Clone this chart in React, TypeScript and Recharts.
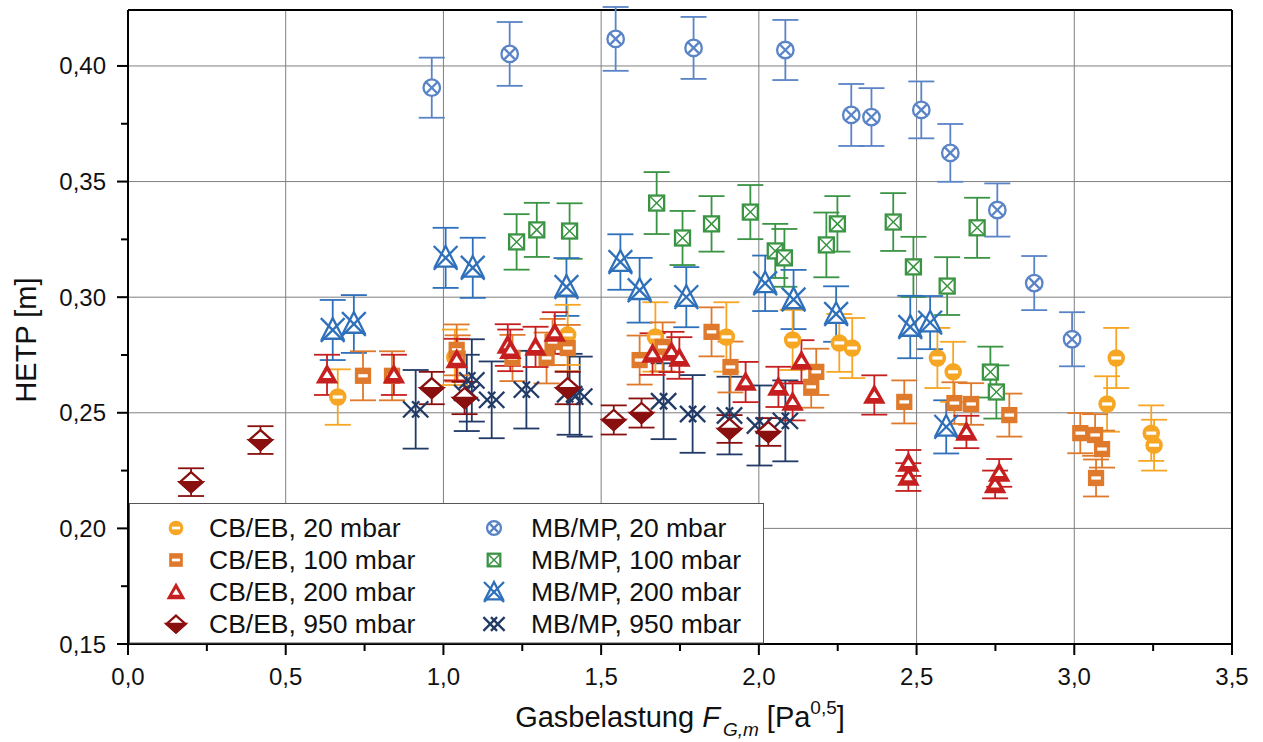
import React from 'react';
import { ScatterChart, Scatter, XAxis, YAxis, ErrorBar, ReferenceLine } from 'recharts';

// axis ticks (minor + major)
const xTicks = [0, 0.25, 0.5, 0.75, 1, 1.25, 1.5, 1.75, 2, 2.25, 2.5, 2.75, 3, 3.25, 3.5];
const yTicks = [0.15, 0.175, 0.2, 0.225, 0.25, 0.275, 0.3, 0.325, 0.35, 0.375, 0.4];
const xGrid = [0.5, 1, 1.5, 2, 2.5, 3];
const yGrid = [0.2, 0.25, 0.3, 0.35, 0.4];

// CB/EB, 20 mbar
const cb20X = [0.665, 1.036, 1.394, 1.672, 1.897, 2.107, 2.255, 2.296, 2.566, 2.616, 3.104, 3.133, 3.244, 3.253];
const cb20Y = [0.2568, 0.274, 0.2837, 0.2828, 0.2828, 0.2815, 0.2802, 0.278, 0.2737, 0.2677, 0.2538, 0.2737, 0.2412, 0.236];
const cb20Err = [0.012, 0.012, 0.013, 0.015, 0.015, 0.013, 0.0125, 0.013, 0.013, 0.013, 0.012, 0.013, 0.012, 0.011];

// CB/EB, 100 mbar
const cb100X = [0.745, 0.837, 1.042, 1.045, 1.219, 1.327, 1.346, 1.394, 1.622, 1.695, 1.85, 1.91, 2.166, 2.182, 2.461, 2.62, 2.673, 2.794, 3.019, 3.066, 3.069, 3.088];
const cb100Y = [0.266, 0.266, 0.2772, 0.2735, 0.2737, 0.2737, 0.2806, 0.278, 0.2728, 0.2785, 0.285, 0.2698, 0.2612, 0.2677, 0.2547, 0.2542, 0.2538, 0.249, 0.2412, 0.2404, 0.2218, 0.2343];
const cb100Err = [0.0106, 0.0106, 0.011, 0.01, 0.01, 0.011, 0.01, 0.01, 0.0106, 0.0106, 0.0106, 0.011, 0.009, 0.01, 0.0093, 0.009, 0.009, 0.0093, 0.0087, 0.009, 0.008, 0.008];

// CB/EB, 200 mbar
const cb200X = [0.631, 0.843, 1.042, 1.204, 1.212, 1.292, 1.353, 1.663, 1.723, 1.748, 1.958, 2.062, 2.107, 2.135, 2.366, 2.474, 2.474, 2.658, 2.749, 2.762];
const cb200Y = [0.2664, 0.2664, 0.273, 0.2793, 0.277, 0.2785, 0.2845, 0.2754, 0.2763, 0.2737, 0.2633, 0.2612, 0.2547, 0.2724, 0.2577, 0.2283, 0.2222, 0.2417, 0.219, 0.224];
const cb200Err = [0.0087, 0.0087, 0.009, 0.009, 0.009, 0.0087, 0.009, 0.009, 0.0087, 0.009, 0.0087, 0.0087, 0.008, 0.009, 0.0085, 0.0056, 0.006, 0.007, 0.006, 0.006];

// CB/EB, 950 mbar
const cb950X = [0.2, 0.42, 0.963, 1.067, 1.394, 1.54, 1.628, 1.907, 2.03];
const cb950Y = [0.22, 0.2382, 0.2607, 0.2564, 0.2607, 0.2469, 0.2499, 0.243, 0.2417];
const cb950Err = [0.006, 0.006, 0.007, 0.007, 0.007, 0.0063, 0.0063, 0.006, 0.006];

// MB/MP, 20 mbar
const mb20X = [0.963, 1.21, 1.546, 1.793, 2.084, 2.293, 2.357, 2.515, 2.607, 2.756, 2.873, 2.993];
const mb20Y = [0.3906, 0.4052, 0.4117, 0.4078, 0.4069, 0.3788, 0.3779, 0.381, 0.3624, 0.3377, 0.3061, 0.2818];
const mb20Err = [0.013, 0.0138, 0.0138, 0.0134, 0.013, 0.0134, 0.0125, 0.0123, 0.0125, 0.0115, 0.0117, 0.0117];

// MB/MP, 100 mbar
const mb100X = [1.232, 1.296, 1.4, 1.676, 1.758, 1.85, 1.973, 2.052, 2.081, 2.214, 2.249, 2.426, 2.49, 2.597, 2.692, 2.734, 2.753];
const mb100Y = [0.3239, 0.3291, 0.3286, 0.3407, 0.3256, 0.3317, 0.3368, 0.32, 0.317, 0.3226, 0.3317, 0.3325, 0.3131, 0.3048, 0.33, 0.2676, 0.259];
const mb100Err = [0.012, 0.0117, 0.012, 0.0134, 0.0117, 0.012, 0.0117, 0.0117, 0.0125, 0.014, 0.012, 0.0125, 0.013, 0.0125, 0.013, 0.011, 0.0115];

// MB/MP, 200 mbar
const mb200X = [0.649, 0.716, 1.007, 1.093, 1.39, 1.561, 1.622, 1.77, 2.02, 2.11, 2.245, 2.48, 2.543, 2.594];
const mb200Y = [0.2858, 0.2884, 0.317, 0.3127, 0.3044, 0.3152, 0.303, 0.3, 0.306, 0.299, 0.2927, 0.2871, 0.289, 0.2439];
const mb200Err = [0.013, 0.0125, 0.013, 0.013, 0.0125, 0.012, 0.014, 0.013, 0.012, 0.0128, 0.012, 0.0135, 0.0115, 0.0115];

// MB/MP, 950 mbar
const mb950X = [0.912, 1.074, 1.09, 1.153, 1.263, 1.4, 1.432, 1.698, 1.79, 1.907, 2.002, 2.084];
const mb950Y = [0.2515, 0.2586, 0.264, 0.2556, 0.26, 0.258, 0.257, 0.255, 0.2495, 0.2488, 0.2445, 0.2465];
const mb950Err = [0.017, 0.0165, 0.0178, 0.0166, 0.0168, 0.0175, 0.0173, 0.0164, 0.0168, 0.0168, 0.0173, 0.0175];

const FONT = '"Liberation Sans", Arial, sans-serif';

const toRows = (xs: number[], ys: number[], errs: number[]) =>
  xs.map((x, i) => ({ x, y: ys[i], err: errs[i] }));

const series = [
  { name: 'MB/MP, 20 mbar', kind: 'xCircle', color: '#5a84c6', data: toRows(mb20X, mb20Y, mb20Err) },
  { name: 'MB/MP, 100 mbar', kind: 'xSquare', color: '#3a9443', data: toRows(mb100X, mb100Y, mb100Err) },
  { name: 'MB/MP, 200 mbar', kind: 'xTriangle', color: '#2f70bb', data: toRows(mb200X, mb200Y, mb200Err) },
  { name: 'MB/MP, 950 mbar', kind: 'doubleX', color: '#213a66', data: toRows(mb950X, mb950Y, mb950Err) },
  { name: 'CB/EB, 20 mbar', kind: 'halfCircle', color: '#f6a623', data: toRows(cb20X, cb20Y, cb20Err) },
  { name: 'CB/EB, 100 mbar', kind: 'halfSquare', color: '#df7a2c', data: toRows(cb100X, cb100Y, cb100Err) },
  { name: 'CB/EB, 200 mbar', kind: 'halfTriangle', color: '#c61f1f', data: toRows(cb200X, cb200Y, cb200Err) },
  { name: 'CB/EB, 950 mbar', kind: 'halfDiamond', color: '#8a1010', data: toRows(cb950X, cb950Y, cb950Err) },
];

const legendLeft = ['CB/EB, 20 mbar', 'CB/EB, 100 mbar', 'CB/EB, 200 mbar', 'CB/EB, 950 mbar'];
const legendRight = ['MB/MP, 20 mbar', 'MB/MP, 100 mbar', 'MB/MP, 200 mbar', 'MB/MP, 950 mbar'];

function Marker({ kind, cx, cy, color, s = 1.25 }: { kind: string; cx: number; cy: number; color: string; s?: number }) {
  const sw = 2.3;
  switch (kind) {
    case 'halfCircle':
      return (
        <g>
          <circle cx={cx} cy={cy} r={7 * s} fill={color} />
          <rect x={cx - 4 * s} y={cy - 1.3 * s} width={8 * s} height={2.6 * s} fill="#fff" />
        </g>
      );
    case 'halfSquare':
      return (
        <g>
          <rect x={cx - 6.5 * s} y={cy - 6.5 * s} width={13 * s} height={13 * s} fill={color} />
          <rect x={cx - 3.8 * s} y={cy - 1.3 * s} width={7.6 * s} height={2.6 * s} fill="#fff" />
        </g>
      );
    case 'halfTriangle':
      return (
        <g>
          <polygon points={`${cx},${cy - 9 * s} ${cx + 9 * s},${cy + 7 * s} ${cx - 9 * s},${cy + 7 * s}`} fill={color} />
          <polygon points={`${cx},${cy - 3 * s} ${cx + 3.5 * s},${cy + 2.5 * s} ${cx - 3.5 * s},${cy + 2.5 * s}`} fill="#fff" />
        </g>
      );
    case 'halfDiamond':
      return (
        <g>
          <polygon points={`${cx},${cy - 8 * s} ${cx + 9 * s},${cy} ${cx},${cy + 8 * s} ${cx - 9 * s},${cy}`} fill="#fff" stroke={color} strokeWidth={sw} />
          <polygon points={`${cx - 9 * s},${cy} ${cx + 9 * s},${cy} ${cx},${cy + 8 * s}`} fill={color} stroke={color} strokeWidth={sw} />
        </g>
      );
    case 'xCircle': {
      const d = 4.4 * s;
      return (
        <g stroke={color} strokeWidth={sw}>
          <circle cx={cx} cy={cy} r={6.6 * s} fill="#fff" />
          <line x1={cx - d} y1={cy - d} x2={cx + d} y2={cy + d} />
          <line x1={cx - d} y1={cy + d} x2={cx + d} y2={cy - d} />
        </g>
      );
    }
    case 'xSquare': {
      const h = 6 * s;
      return (
        <g stroke={color} strokeWidth={sw}>
          <rect x={cx - h} y={cy - h} width={2 * h} height={2 * h} fill="#fff" />
          <line x1={cx - h} y1={cy - h} x2={cx + h} y2={cy + h} strokeWidth={1.5} />
          <line x1={cx - h} y1={cy + h} x2={cx + h} y2={cy - h} strokeWidth={1.5} />
        </g>
      );
    }
    case 'xTriangle': {
      const d = 9.5 * s;
      return (
        <g stroke={color} strokeWidth={sw} fill="none">
          <polygon points={`${cx},${cy - 9.5 * s} ${cx + 8.5 * s},${cy + 7 * s} ${cx - 8.5 * s},${cy + 7 * s}`} fill="#fff" />
          <line x1={cx - d} y1={cy - d} x2={cx + d} y2={cy + d} />
          <line x1={cx - d} y1={cy + d} x2={cx + d} y2={cy - d} />
        </g>
      );
    }
    case 'doubleX': {
      const d = 6.5 * s;
      const o = 3.6 * s;
      return (
        <g stroke={color} strokeWidth={sw}>
          <line x1={cx - o - d} y1={cy - d} x2={cx - o + d} y2={cy + d} />
          <line x1={cx - o - d} y1={cy + d} x2={cx - o + d} y2={cy - d} />
          <line x1={cx + o - d} y1={cy - d} x2={cx + o + d} y2={cy + d} />
          <line x1={cx + o - d} y1={cy + d} x2={cx + o + d} y2={cy - d} />
        </g>
      );
    }
    default:
      return null;
  }
}

const isMajorX = (v: number) => Math.abs(v * 2 - Math.round(v * 2)) < 1e-6;
const isMajorY = (v: number) => Math.abs(v * 20 - Math.round(v * 20)) < 1e-6;

function XTick(props: any) {
  const { x, y, payload } = props;
  const major = isMajorX(payload.value);
  return (
    <g>
      <line x1={x} x2={x} y1={y} y2={y + (major ? 11 : 7)} stroke="#000" strokeWidth={2} />
      {major && (
        <text x={x} y={y + 41} textAnchor="middle" fontSize={24} fontFamily={FONT} fill="#111">
          {payload.value.toFixed(1).replace('.', ',')}
        </text>
      )}
    </g>
  );
}

function YTick(props: any) {
  const { x, y, payload } = props;
  const major = isMajorY(payload.value);
  return (
    <g>
      <line x1={x} x2={x - (major ? 11 : 7)} y1={y} y2={y} stroke="#000" strokeWidth={2} />
      {major && (
        <text x={x - 22} y={y + 8.5} textAnchor="end" fontSize={24} fontFamily={FONT} fill="#111">
          {payload.value.toFixed(2).replace('.', ',')}
        </text>
      )}
    </g>
  );
}

export default function App() {
  const byName = (n: string) => series.find((s) => s.name === n)!;
  const rowsY = [528, 560, 592, 624];
  return (
    <div style={{ position: 'absolute', left: 0, top: 0, width: 1263, height: 742, background: '#fff' }}>
      <ScatterChart width={1263} height={742} margin={{ top: 10, right: 31, bottom: 58, left: 68 }}>
        {xGrid.map((v) => (
          <ReferenceLine key={'gx' + v} x={v} stroke="#7f7f7f" strokeWidth={1} />
        ))}
        {yGrid.map((v) => (
          <ReferenceLine key={'gy' + v} y={v} stroke="#7f7f7f" strokeWidth={1} />
        ))}
        <ReferenceLine x={3.5} stroke="#000" strokeWidth={2} />
        <ReferenceLine y={0.4242} stroke="#000" strokeWidth={2} />
        <XAxis
          dataKey="x"
          type="number"
          domain={[0, 3.5]}
          ticks={xTicks}
          interval={0}
          allowDataOverflow
          tickSize={0}
          tickMargin={0}
          tickLine={false}
          height={40}
          axisLine={{ stroke: '#000', strokeWidth: 2 }}
          tick={(p: any) => <XTick {...p} />}
        />
        <YAxis
          dataKey="y"
          type="number"
          domain={[0.15, 0.4242]}
          ticks={yTicks}
          interval={0}
          allowDataOverflow
          tickSize={0}
          tickMargin={0}
          tickLine={false}
          width={60}
          axisLine={{ stroke: '#000', strokeWidth: 2 }}
          tick={(p: any) => <YTick {...p} />}
        />
        {series.map((s) => (
          <Scatter
            key={s.name}
            name={s.name}
            data={s.data}
            isAnimationActive={false}
            shape={(p: any) => <Marker kind={s.kind} cx={p.cx} cy={p.cy} color={s.color} />}
          >
            <ErrorBar dataKey="err" direction="y" width={13} stroke={s.color} strokeWidth={1.8} />
          </Scatter>
        ))}
      </ScatterChart>
      <svg width={1263} height={742} style={{ position: 'absolute', left: 0, top: 0, pointerEvents: 'none' }} fontFamily={FONT}>
        <rect x={129.5} y={503.5} width={634} height={139.5} fill="#fff" stroke="#555" strokeWidth={1} />
        {legendLeft.map((n, i) => {
          const s = byName(n);
          return (
            <g key={n}>
              <Marker kind={s.kind} cx={176} cy={rowsY[i]} color={s.color} s={1.05} />
              <text x={209} y={rowsY[i] + 9} fontSize={26.5} fill="#111">{n}</text>
            </g>
          );
        })}
        {legendRight.map((n, i) => {
          const s = byName(n);
          return (
            <g key={n}>
              <Marker kind={s.kind} cx={494} cy={rowsY[i]} color={s.color} s={1.05} />
              <text x={531} y={rowsY[i] + 9} fontSize={26.5} fill="#111">{n}</text>
            </g>
          );
        })}
        <text transform="translate(36,340) rotate(-90)" textAnchor="middle" fontSize={29} fill="#111">
          HETP [m]
        </text>
        <text x={680} y={727} textAnchor="middle" fontSize={29} fill="#111">
          Gasbelastung <tspan fontStyle="italic">F</tspan>
          <tspan fontStyle="italic" fontSize={19} dx={3} dy={9}>G,m</tspan>
          <tspan dy={-9}> [Pa</tspan>
          <tspan fontSize={19} dy={-13}>0,5</tspan>
          <tspan dy={13}>]</tspan>
        </text>
      </svg>
    </div>
  );
}
